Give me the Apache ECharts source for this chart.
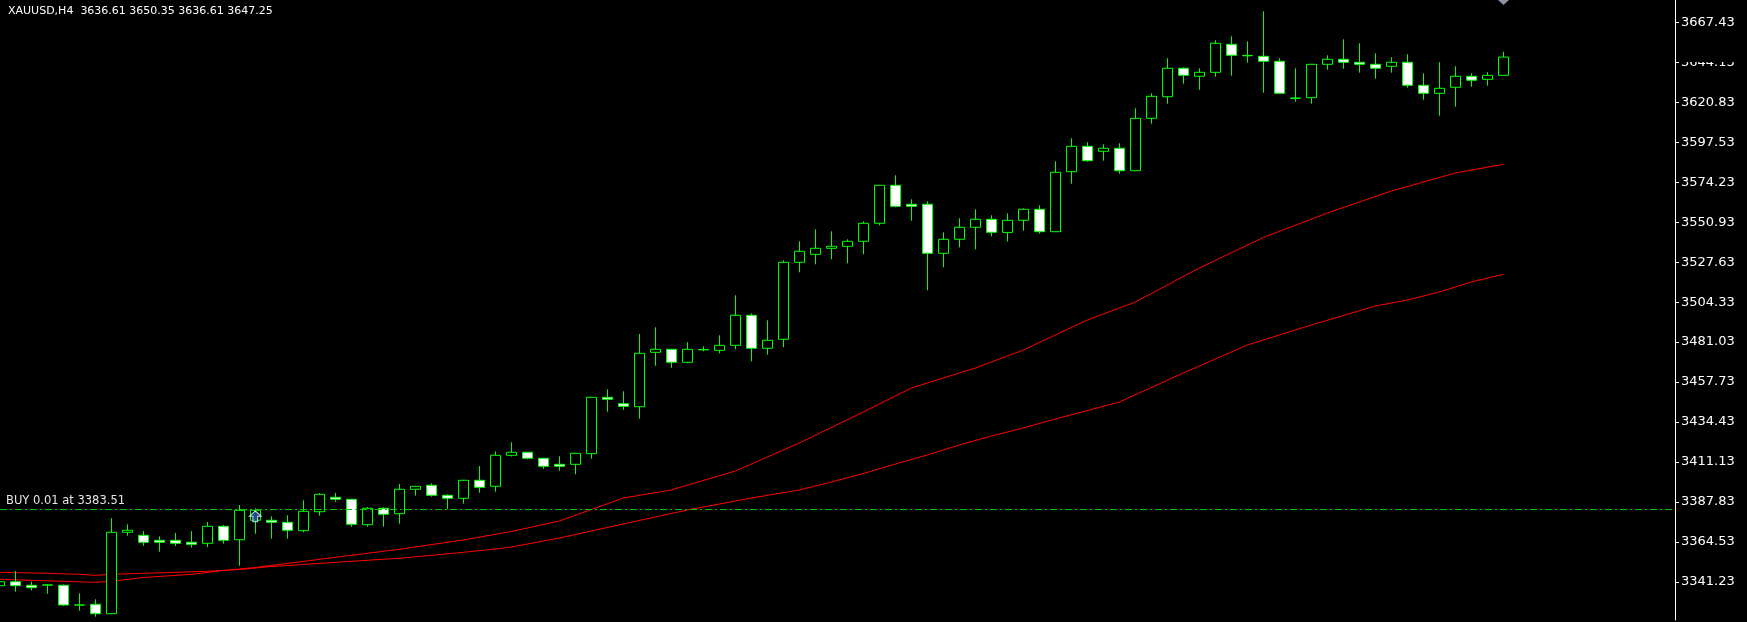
<!DOCTYPE html>
<html>
<head>
<meta charset="utf-8">
<script src="https://cdn.jsdelivr.net/npm/echarts@6/dist/echarts.min.js"></script>
<style>
  html, body { margin: 0; padding: 0; background: #000; }
  #main { width: 1747px; height: 622px; }
</style>
</head>
<body>
<div id="main"></div>
<script>
// ---- data ----
const symbolName = 'XAUUSD';
const timeframe = 'H4';
// candles, oldest first (first one is partly off the left edge)
const opens = [3338.95,3341.28,3339.19,3339.40,3339.19,3327.75,3328.10,3322.62,3370.10,3368.35,
  3365.43,3365.43,3364.26,3363.68,3373.60,3365.78,3377.10,3377.10,3375.93,3371.03,
  3382.11,3390.51,3389.34,3374.53,3384.09,3380.94,3395.18,3397.51,3391.68,3389.93,
  3400.43,3396.93,3415.01,3416.76,3413.26,3409.76,3409.76,3415.94,3448.83,3445.10,
  3443.35,3475.08,3476.83,3469.25,3476.70,3476.24,3479.16,3496.66,3477.41,3482.66,
  3527.57,3532.23,3535.73,3536.90,3539.82,3550.31,3572.48,3561.40,3561.40,3532.82,
  3540.98,3547.98,3552.65,3545.00,3552.06,3558.48,3545.42,3580.41,3595.22,3592.31,
  3594.06,3580.99,3611.55,3624.15,3640.72,3636.05,3638.38,3654.71,3648.20,3647.71,
  3644.80,3623.40,3623.57,3643.05,3645.96,3644.21,3643.05,3641.88,3644.21,3630.80,
  3626.13,3629.63,3636.05,3634.30,3636.61];
const highs = [3342.00,3347.53,3341.28,3339.94,3339.77,3334.52,3331.02,3378.26,3374.76,3370.85,
  3367.76,3369.69,3370.85,3376.10,3374.35,3386.02,3384.09,3379.43,3380.01,3388.76,
  3393.02,3393.02,3389.60,3384.85,3384.67,3398.27,3397.20,3398.68,3392.26,3400.70,
  3408.77,3417.34,3422.59,3417.00,3413.50,3414.42,3416.40,3449.10,3453.50,3452.33,
  3485.75,3489.66,3477.10,3480.91,3478.58,3484.99,3508.32,3497.82,3493.74,3528.74,
  3539.82,3546.82,3545.65,3540.98,3551.48,3572.70,3578.31,3564.31,3563.15,3545.07,
  3553.23,3558.48,3554.98,3556.15,3559.06,3560.81,3586.48,3599.89,3597.56,3596.39,
  3596.97,3617.39,3626.13,3646.55,3641.30,3640.72,3657.05,3659.38,3656.46,3673.96,
  3646.55,3640.72,3643.30,3648.30,3657.63,3655.30,3649.46,3647.13,3648.88,3637.80,
  3644.21,3641.88,3637.80,3638.38,3650.35];
const lows = [3338.00,3335.45,3336.27,3334.29,3327.11,3324.37,3320.87,3322.30,3368.11,3362.28,
  3358.78,3362.11,3361.12,3361.52,3363.45,3350.62,3369.28,3366.36,3366.36,3370.10,
  3379.78,3387.94,3373.36,3373.36,3373.36,3375.11,3391.44,3390.86,3383.69,3386.78,
  3393.19,3393.78,3414.30,3412.67,3407.19,3406.02,3403.92,3413.02,3440.43,3441.60,
  3436.35,3467.26,3466.10,3468.66,3475.66,3474.49,3476.83,3469.83,3473.68,3477.99,
  3521.74,3526.40,3529.32,3526.99,3532.23,3549.15,3559.65,3551.83,3511.24,3524.65,
  3536.32,3535.15,3542.73,3539.70,3546.00,3544.25,3545.20,3573.41,3586.24,3586.83,
  3579.24,3580.70,3608.40,3620.07,3631.73,3628.23,3635.82,3636.40,3643.98,3626.48,
  3625.90,3621.24,3620.07,3639.90,3640.48,3638.15,3634.65,3638.15,3629.40,3622.40,
  3613.07,3618.32,3629.98,3630.57,3636.61];
const closes = [3341.28,3338.95,3337.79,3339.30,3327.70,3327.65,3322.62,3370.10,3371.26,3364.26,
  3364.26,3363.68,3363.10,3373.60,3365.43,3382.93,3382.93,3375.93,3371.26,3382.34,
  3392.26,3389.34,3374.76,3384.09,3380.60,3395.18,3396.93,3391.68,3389.93,3400.43,
  3396.34,3415.01,3416.76,3413.26,3408.59,3408.59,3416.17,3448.83,3447.67,3443.58,
  3474.49,3476.83,3469.25,3476.83,3476.50,3479.16,3496.66,3477.41,3482.08,3527.57,
  3533.98,3535.73,3536.90,3539.82,3550.31,3572.48,3560.23,3560.23,3532.82,3540.98,
  3547.98,3552.65,3545.07,3552.06,3558.48,3545.42,3580.06,3595.22,3586.83,3594.06,
  3580.99,3611.55,3624.38,3640.72,3636.63,3638.38,3655.30,3648.30,3648.00,3644.80,
  3626.13,3623.20,3643.05,3645.96,3644.21,3643.05,3640.72,3644.21,3630.80,3626.13,
  3629.05,3636.05,3633.72,3636.61,3647.25];
// moving averages: bar number (0 = first fully visible bar) and value
const fastMaBar = [-1,2,5,6,8,11,13,15,20,24,28,31,34,38,41,45,49,53,56,60,63,67,70,74,78,82,86,90,93];
const fastMaVal = [3342.68,3341.81,3340.93,3341.52,3343.73,3345.60,3347.82,3349.57,3355.52,3360.18,
  3365.61,3370.56,3376.69,3390.10,3394.77,3405.85,3422.18,3440.26,3454.26,3465.92,3476.42,
  3493.92,3504.41,3524.24,3542.03,3556.32,3569.15,3579.65,3584.73];
const slowMaBar = [-1,2,4,5,6,8,10,12,14,16,18,20,22,24,26,28,30,31,34,38,42,46,49,51,53,55,57,59,61,63,65,69,73,77,81,85,87,89,91,93];
const slowMaVal = [3346.76,3346.18,3345.60,3345.02,3345.60,3346.18,3346.76,3347.35,3348.40,3350.15,
  3351.32,3352.60,3353.77,3354.93,3356.68,3358.43,3360.36,3361.52,3366.77,3374.94,3383.10,
  3390.10,3394.77,3399.43,3404.39,3409.93,3415.18,3421.01,3426.26,3430.93,3436.18,3446.09,
  3463.01,3479.34,3491.00,3502.08,3505.58,3510.25,3516.08,3520.57];
// open trade
const tradeSide = 'BUY';
const tradeLots = '0.01';
const tradePrice = 3383.51;
const tradeBar = 15;
// price scale labels
const priceTicks = [3341.23,3364.53,3387.83,3411.13,3434.43,3457.73,3481.03,3504.33,3527.63,
  3550.93,3574.23,3597.53,3620.83,3644.13,3667.43];

// ---- build ----
const firstBar = -1;
const candleData = opens.map((o, i) => [i + firstBar, o, closes[i], lows[i], highs[i]]);
const fastData = fastMaBar.map((b, i) => [b, fastMaVal[i]]);
const slowData = slowMaBar.map((b, i) => [b, slowMaVal[i]]);
const last = opens.length - 1;
const titleText = symbolName + ',' + timeframe + '  ' +
  [opens[last], highs[last], lows[last], closes[last]].map(v => v.toFixed(2)).join(' ');

const chart = echarts.init(document.getElementById('main'));
const FONT = 'DejaVu Sans';
chart.setOption({
  backgroundColor: '#000000',
  animation: false,
  title: {
    text: titleText, left: 3, top: 1,
    textStyle: { color: '#ffffff', fontSize: 11, fontWeight: 'normal', fontFamily: FONT }
  },
  grid: { left: 0, top: 0, right: 72, bottom: 2 },
  xAxis: {
    type: 'value', min: -0.95625, max: 103.73125, show: false
  },
  yAxis: {
    type: 'value', position: 'right', min: 3318.95, max: 3680.55, scale: true,
    splitLine: { show: false },
    axisLine: { show: true, onZero: false, lineStyle: { color: '#ffffff', width: 1 } },
    axisTick: { show: true, inside: false, length: 4, customValues: priceTicks,
      lineStyle: { color: '#ffffff' } },
    axisLabel: { show: true, customValues: priceTicks, margin: 6, color: '#ffffff',
      fontSize: 13, fontFamily: FONT, formatter: v => v.toFixed(2) }
  },
  graphic: [
    { type: 'rect', z: 100, shape: { x: 1677, y: 50, width: 70, height: 12 },
      style: { fill: '#000000' } },
    { type: 'polygon', z: 100, shape: { points: [[1498, 0], [1509, 0], [1503.5, 5]] },
      style: { fill: '#8a94a3' } }
  ],
  series: [
    {
      type: 'line', data: slowData, symbol: 'none', silent: true,
      lineStyle: { color: '#ff0000', width: 1 }, z: 1
    },
    {
      type: 'line', data: fastData, symbol: 'none', silent: true,
      lineStyle: { color: '#ff0000', width: 1 }, z: 1
    },
    {
      type: 'candlestick', data: candleData, barWidth: 10, z: 2,
      encode: { x: 0, y: [1, 2, 3, 4] },
      itemStyle: {
        color: '#000000', color0: '#ffffff',
        borderColor: '#00ff00', borderColor0: '#00ff00', borderColorDoji: '#00ff00',
        borderWidth: 1
      },
      markLine: {
        silent: true, symbol: 'none', animation: false,
        lineStyle: { color: '#00c800', type: [7, 3, 2, 3], width: 1 },
        label: {
          show: true, position: 'insideStartTop', distance: [6, 2],
          color: '#e6e6e6', fontSize: 11.5, fontFamily: FONT,
          formatter: tradeSide + ' ' + tradeLots + ' at ' + tradePrice.toFixed(2)
        },
        data: [{ yAxis: tradePrice }]
      }
    },
    {
      type: 'scatter', z: 5, silent: true,
      data: [[tradeBar, tradePrice]],
      symbol: 'path://M5,0 L10,5 L7,5 L7,10 L3,10 L3,5 L0,5 Z',
      symbolSize: [12, 11], symbolOffset: [0, 7],
      itemStyle: { color: '#1a5fb4', borderColor: '#ffffff', borderWidth: 1 }
    }
  ]
});
</script>
</body>
</html>
